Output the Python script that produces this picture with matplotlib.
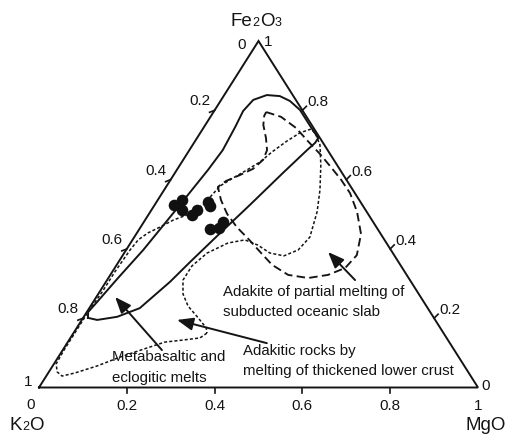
import numpy as np
import matplotlib
matplotlib.use("Agg")
import matplotlib.pyplot as plt
from matplotlib.offsetbox import TextArea, HPacker, AnnotationBbox

plt.rcParams['font.family'] = ['Liberation Sans', 'DejaVu Sans']

#====================
# compositions as fractions (MgO, Fe2O3); K2O = 1 - MgO - Fe2O3
#====================
sample_mgo   = [0.043, 0.055, 0.069, 0.099, 0.103, 0.118, 0.128, 0.161, 0.179, 0.179]
sample_fe2o3 = [0.527, 0.541, 0.512, 0.498, 0.512, 0.536, 0.524, 0.457, 0.460, 0.479]

# metabasaltic and eclogitic melts (solid field)
meta_mgo   = [0.011, 0.035, 0.076, 0.115, 0.146, 0.163, 0.188, 0.217, 0.246, 0.268,
              0.276, 0.276, 0.240, 0.194, 0.158, 0.128, 0.097, 0.073, 0.066, 0.071,
              0.076, 0.071, 0.055, 0.039, 0.022, 0.009, 0.003]
meta_fe2o3 = [0.201, 0.195, 0.204, 0.229, 0.305, 0.362, 0.440, 0.527, 0.619, 0.685,
              0.706, 0.720, 0.755, 0.801, 0.827, 0.841, 0.844, 0.830, 0.798, 0.752,
              0.685, 0.628, 0.509, 0.397, 0.316, 0.247, 0.218]

# adakite from slab melting (dashed field)
slab_mgo   = [0.120, 0.161, 0.211, 0.257, 0.303, 0.347, 0.389, 0.428, 0.471, 0.512,
              0.533, 0.525, 0.496, 0.455, 0.405, 0.354, 0.312, 0.266, 0.219, 0.178,
              0.144, 0.118, 0.128, 0.151, 0.172, 0.182, 0.177, 0.157, 0.132, 0.121]
slab_fe2o3 = [0.795, 0.781, 0.749, 0.711, 0.674, 0.636, 0.599, 0.561, 0.507, 0.443,
              0.382, 0.345, 0.325, 0.316, 0.325, 0.354, 0.388, 0.426, 0.463, 0.501,
              0.541, 0.579, 0.596, 0.613, 0.631, 0.657, 0.685, 0.720, 0.758, 0.784]

# adakitic rocks from thickened lower crust (dotted field)
crust_mgo   = [0.304, 0.295, 0.260, 0.221, 0.189, 0.141, 0.101, 0.061, 0.036, 0.019,
               0.005, 0.003, 0.003, 0.003, 0.006, 0.006, 0.009, 0.013, 0.025, 0.044,
               0.064, 0.088, 0.110, 0.122, 0.140, 0.160, 0.178, 0.191, 0.209, 0.227,
               0.247, 0.264, 0.290, 0.321, 0.355, 0.380, 0.400, 0.392, 0.368, 0.332,
               0.293, 0.256, 0.222, 0.189, 0.173, 0.173, 0.193, 0.222, 0.262, 0.295]
crust_fe2o3 = [0.157, 0.143, 0.137, 0.131, 0.114, 0.088, 0.062, 0.042, 0.033, 0.045,
               0.068, 0.108, 0.172, 0.224, 0.276, 0.336, 0.397, 0.426, 0.446, 0.463,
               0.483, 0.498, 0.527, 0.582, 0.605, 0.628, 0.651, 0.680, 0.711, 0.735,
               0.746, 0.732, 0.700, 0.642, 0.570, 0.507, 0.434, 0.397, 0.380, 0.388,
               0.411, 0.426, 0.417, 0.388, 0.351, 0.310, 0.270, 0.235, 0.201, 0.172]

# arrows: (tail MgO, tail Fe2O3, head MgO, head Fe2O3)
arrow_meta  = (0.226, 0.108, 0.043, 0.261)
arrow_crust = (0.455, 0.128, 0.217, 0.195)
arrow_slab  = (0.565, 0.310, 0.463, 0.391)

tick_vals = [0.0, 0.2, 0.4, 0.6, 0.8, 1.0]
tick_labs = ["0", "0.2", "0.4", "0.6", "0.8", "1"]

#====================
W, H = 506, 434
X0, Y0 = 39, 387.5        # K2O corner (px)
SIDE, HGT = 439, 346.5    # base width / height (px)
ink = "#141414"

def tern(mg, fe):
    mg = np.asarray(mg, float)
    fe = np.asarray(fe, float)
    return mg + 0.5*fe, fe

def shift(x, y, dx, dy):
    # move by pixels (dy positive = down)
    return x + dx/SIDE, y - dy/HGT

fig = plt.figure(figsize=(W/100, H/100), dpi=100)
ax = fig.add_axes([X0/W, (H-Y0)/H, SIDE/W, HGT/H])
ax.set_xlim(0, 1)
ax.set_ylim(0, 1)
ax.axis("off")

# frame
ax.plot([0, 0.5, 1, 0], [0, 1, 0, 0], color=ink, lw=1.4, solid_joinstyle="miter", clip_on=False)

# ticks + labels
for v, lab in zip(tick_vals, tick_labs):
    # bottom : MgO
    x, y = tern(v, 0)
    if 0 < v < 1:
        ax.plot([x, x], [y, shift(x, y, 0, 5)[1]], color=ink, lw=1.2, clip_on=False)
    off = (-8, -17.5) if v == 0 else (0, -18)
    ax.annotate(lab, (x, y), xytext=off, textcoords="offset pixels", ha="center", va="center",
                fontsize=11, color=ink)
    # left : K2O
    x, y = tern(0, 1-v)
    if 0 < v < 1:
        x2, y2 = shift(x, y, -5, 2)
        ax.plot([x, x2], [y, y2], color=ink, lw=1.2, clip_on=False)
    off = {0.0: (-17, -4), 1.0: (-11, 5)}.get(v, (-15, 9))
    ax.annotate(lab, (x, y), xytext=off, textcoords="offset pixels", ha="center", va="center",
                fontsize=11, color=ink)
    # right : Fe2O3
    x, y = tern(1-v, v)
    if 0 < v < 1:
        x2, y2 = shift(x, y, 4, -4)
        ax.plot([x, x2], [y, y2], color=ink, lw=1.2, clip_on=False)
    off = {1.0: (10, -1), 0.0: (8, 1.5)}.get(v, (16, 8))
    ax.annotate(lab, (x, y), xytext=off, textcoords="offset pixels", ha="center", va="center",
                fontsize=11, color=ink)

# fields
def closed(mg, fe):
    x, y = tern(mg, fe)
    return np.append(x, x[0]), np.append(y, y[0])

x, y = closed(meta_mgo, meta_fe2o3)
ax.plot(x, y, color=ink, lw=1.4, solid_joinstyle="round")
x, y = closed(slab_mgo, slab_fe2o3)
ax.plot(x, y, color=ink, lw=1.35, dashes=(4.5, 2.3))
x, y = closed(crust_mgo, crust_fe2o3)
ax.plot(x, y, color=ink, lw=1.1, dashes=(2.0, 1.4))

# samples
x, y = tern(sample_mgo, sample_fe2o3)
ax.scatter(x, y, s=70, color="#111111", zorder=5, linewidths=0)

# arrows
for a in [arrow_meta, arrow_crust, arrow_slab]:
    xt, yt = tern(a[0], a[1])
    xh, yh = tern(a[2], a[3])
    ax.annotate("", xy=(xh, yh), xytext=(xt, yt),
                arrowprops=dict(arrowstyle="-|>,head_length=0.75,head_width=0.3",
                                mutation_scale=13, lw=1.4, color=ink,
                                shrinkA=0, shrinkB=0))

def ptxt(xp, yp, s):
    fig.text(xp/W, 1 - yp/H, s, ha="left", va="center", fontsize=10.8, color=ink)

ptxt(223, 292, "Adakite of partial melting of")
ptxt(223, 312, "subducted oceanic slab")
ptxt(243, 351, "Adakitic rocks by")
ptxt(243, 371, "melting of thickened lower crust")
ptxt(112, 357, "Metabasaltic and")
ptxt(112, 378, "eclogitic melts")

# oxide names with small digits on the baseline
def oxide(parts, xp, yp):
    kids = [TextArea(s, textprops=dict(fontsize=13.5 if big else 9, color=ink)) for s, big in parts]
    box = HPacker(children=kids, align="baseline", pad=0, sep=0)
    ab = AnnotationBbox(box, (xp, H - yp), xycoords="figure pixels", frameon=False,
                        box_alignment=(0.5, 0.5), pad=0)
    fig.add_artist(ab)

oxide([("Fe", 1), ("2", 0), ("O", 1), ("3", 0)], 256, 22)
oxide([("K", 1), ("2", 0), ("O", 1)], 26.5, 426)
oxide([("MgO", 1)], 486, 426)

fig.savefig("out.png", dpi=100)
